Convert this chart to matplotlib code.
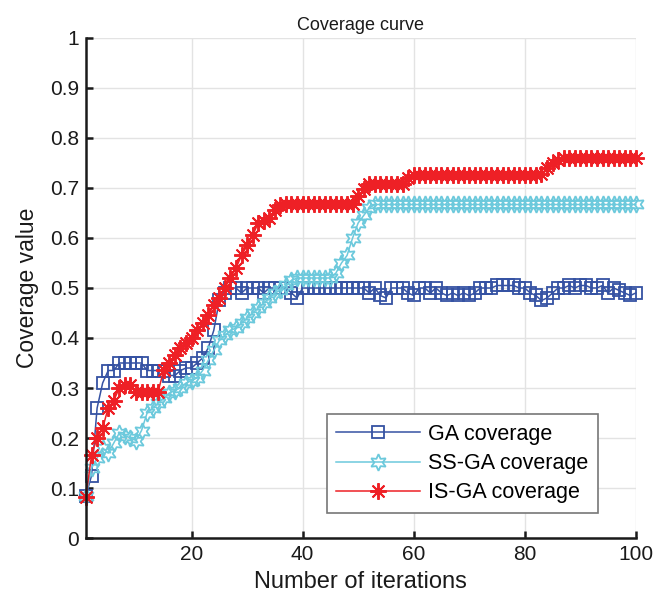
import numpy as np
import matplotlib
matplotlib.use("Agg")
import matplotlib.pyplot as plt

plt.rcParams['font.family'] = ['Liberation Sans', 'DejaVu Sans']

iterations = list(range(1, 101))

ga = [0.085, 0.125, 0.26, 0.31, 0.335, 0.335, 0.35, 0.35, 0.35, 0.35,
      0.35, 0.335, 0.335, 0.335, 0.335, 0.325, 0.325, 0.335, 0.34, 0.34,
      0.35, 0.36, 0.38, 0.415, 0.475, 0.49, 0.5, 0.5, 0.49, 0.5,
      0.5, 0.5, 0.49, 0.5, 0.5, 0.5, 0.5, 0.49, 0.48, 0.5,
      0.5, 0.5, 0.5, 0.5, 0.5, 0.5, 0.5, 0.5, 0.5, 0.5,
      0.5, 0.49, 0.5, 0.485, 0.48, 0.5, 0.5, 0.5, 0.49, 0.485,
      0.5, 0.5, 0.49, 0.5, 0.49, 0.485, 0.49, 0.485, 0.49, 0.485,
      0.49, 0.5, 0.5, 0.5, 0.505, 0.505, 0.505, 0.505, 0.5, 0.5,
      0.49, 0.485, 0.475, 0.48, 0.49, 0.5, 0.5, 0.505, 0.5, 0.505,
      0.505, 0.5, 0.5, 0.505, 0.49, 0.5, 0.495, 0.49, 0.485, 0.49]

ssga = [0.085, 0.14, 0.16, 0.18, 0.17, 0.19, 0.21, 0.205, 0.2, 0.195,
        0.215, 0.25, 0.26, 0.27, 0.28, 0.29, 0.295, 0.3, 0.31, 0.315,
        0.32, 0.335, 0.355, 0.375, 0.395, 0.405, 0.415, 0.42, 0.43, 0.44,
        0.45, 0.46, 0.47, 0.48, 0.49, 0.495, 0.505, 0.515, 0.52, 0.52,
        0.52, 0.52, 0.52, 0.52, 0.52, 0.53, 0.55, 0.565, 0.6, 0.63,
        0.645, 0.66, 0.667, 0.667, 0.667, 0.667, 0.667, 0.667, 0.667, 0.667,
        0.667, 0.667, 0.667, 0.667, 0.667, 0.667, 0.667, 0.667, 0.667, 0.667,
        0.667, 0.667, 0.667, 0.667, 0.667, 0.667, 0.667, 0.667, 0.667, 0.667,
        0.667, 0.667, 0.667, 0.667, 0.667, 0.667, 0.667, 0.667, 0.667, 0.667,
        0.667, 0.667, 0.667, 0.667, 0.667, 0.667, 0.667, 0.667, 0.667, 0.667]

isga = [0.083, 0.166, 0.2, 0.22, 0.26, 0.275, 0.3, 0.306, 0.306, 0.293,
        0.293, 0.293, 0.293, 0.293, 0.336, 0.35, 0.365, 0.38, 0.39, 0.4,
        0.415, 0.43, 0.445, 0.465, 0.48, 0.5, 0.52, 0.54, 0.565, 0.585,
        0.605, 0.63, 0.633, 0.64, 0.655, 0.665, 0.667, 0.667, 0.667, 0.667,
        0.667, 0.667, 0.667, 0.667, 0.667, 0.667, 0.667, 0.667, 0.667, 0.683,
        0.697, 0.707, 0.707, 0.707, 0.707, 0.707, 0.707, 0.707, 0.72, 0.725,
        0.725, 0.725, 0.725, 0.725, 0.725, 0.725, 0.725, 0.725, 0.725, 0.725,
        0.725, 0.725, 0.725, 0.725, 0.725, 0.725, 0.725, 0.725, 0.725, 0.725,
        0.725, 0.725, 0.727, 0.74, 0.75, 0.755, 0.759, 0.759, 0.759, 0.759,
        0.759, 0.759, 0.759, 0.759, 0.759, 0.759, 0.759, 0.759, 0.759, 0.759]

labels = ["GA coverage", "SS-GA coverage", "IS-GA coverage"]
x_ticks = [20, 40, 60, 80, 100]
y_ticks = [0, 0.1, 0.2, 0.3, 0.4, 0.5, 0.6, 0.7, 0.8, 0.9, 1]
y_ticklabels = ["0", "0.1", "0.2", "0.3", "0.4", "0.5", "0.6", "0.7", "0.8", "0.9", "1"]

c_blue = "#3552a3"
c_cyan = "#6cc9dc"
c_red = "#ee2026"
c_text = "#1a1a1a"

fig = plt.figure(figsize=(6.53, 6.02), dpi=100)
ax = fig.add_axes([0.1317, 0.1063, 0.842, 0.8306])

ax.plot(iterations, ga, color=c_blue, lw=1.1, marker='s', ms=9, mfc='none',
        mec=c_blue, mew=1.3, label=labels[0], clip_on=False)
ax.plot(iterations, ssga, color=c_cyan, lw=1.1, marker=(6, 1, 0), ms=12, mfc='none',
        mec=c_cyan, mew=1.3, label=labels[1], clip_on=False)
ax.plot(iterations, isga, color=c_red, lw=1.1, marker=(8, 2, 0), ms=12, mfc='none',
        mec=c_red, mew=1.4, label=labels[2], clip_on=False)

ax.set_xlim(1, 100)
ax.set_ylim(0, 1)
ax.set_xticks(x_ticks)
ax.set_yticks(y_ticks)
ax.set_yticklabels(y_ticklabels)
ax.grid(True, color="#e3e3e3", lw=1.0)
ax.set_axisbelow(True)
for s in ["top", "right"]:
    ax.spines[s].set_visible(False)
for s in ["left", "bottom"]:
    ax.spines[s].set_linewidth(1.8)
    ax.spines[s].set_color(c_text)
ax.tick_params(direction='in', length=5, width=1.8, labelsize=15, colors=c_text, pad=5)

ax.set_title("Coverage curve", fontsize=13, color=c_text, pad=6)
ax.set_xlabel("Number of iterations", fontsize=17, color=c_text, labelpad=5)
ax.set_ylabel("Coverage value", fontsize=16.5, color=c_text, labelpad=8)

leg = ax.legend(loc="lower right", bbox_to_anchor=(0.931, 0.05), borderaxespad=0,
                fontsize=15.5, frameon=True, fancybox=False, edgecolor="#777777",
                framealpha=1, handlelength=3.9, handletextpad=0.35,
                borderpad=0.45, labelspacing=0.38)
leg.get_frame().set_linewidth(1.2)

fig.savefig("out.png", dpi=100)
